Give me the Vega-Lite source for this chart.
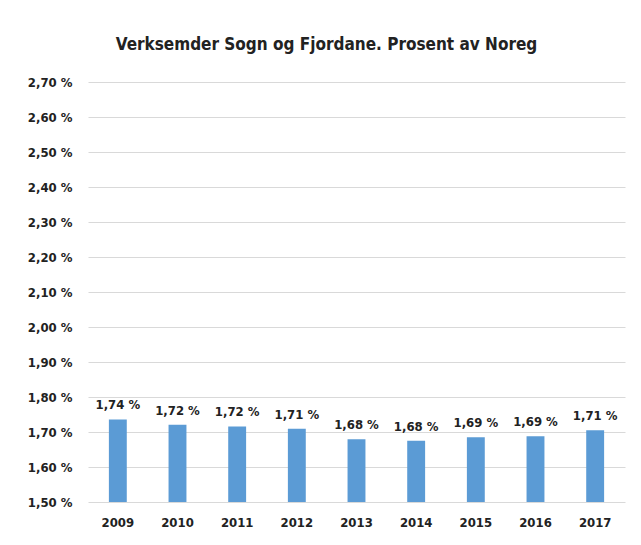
{
  "$schema": "https://vega.github.io/schema/vega-lite/v6.json",
  "autosize": "none",
  "width": 537,
  "height": 420,
  "padding": {"left": 88, "top": 82, "right": 16, "bottom": 43},
  "background": "white",
  "title": {
    "text": "Verksemder Sogn og Fjordane. Prosent av Noreg",
    "font": "DejaVu Sans Condensed, sans-serif",
    "fontSize": 17,
    "fontWeight": "bold",
    "color": "#222222",
    "anchor": "middle",
    "dx": -30,
    "offset": 22
  },
  "data": {
    "values": [
      {"year": "2009", "value": 1.736, "label": "1,74 %"},
      {"year": "2010", "value": 1.721, "label": "1,72 %"},
      {"year": "2011", "value": 1.716, "label": "1,72 %"},
      {"year": "2012", "value": 1.709, "label": "1,71 %"},
      {"year": "2013", "value": 1.679, "label": "1,68 %"},
      {"year": "2014", "value": 1.675, "label": "1,68 %"},
      {"year": "2015", "value": 1.685, "label": "1,69 %"},
      {"year": "2016", "value": 1.688, "label": "1,69 %"},
      {"year": "2017", "value": 1.705, "label": "1,71 %"}
    ]
  },
  "encoding": {
    "x": {
      "field": "year",
      "type": "ordinal",
      "scale": {"paddingInner": 0.7, "paddingOuter": 0.35},
      "axis": {
        "title": null,
        "labelAngle": 0,
        "domain": false,
        "ticks": false,
        "labelPadding": 14,
        "labelOverlap": false,
        "labelFont": "DejaVu Sans Condensed, sans-serif",
        "labelFontSize": 13,
        "labelFontWeight": "bold",
        "labelColor": "#222222"
      }
    },
    "y": {
      "field": "value",
      "type": "quantitative",
      "scale": {"domain": [1.5, 2.7], "nice": false, "zero": false},
      "axis": {
        "title": null,
        "values": [1.5, 1.6, 1.7, 1.8, 1.9, 2.0, 2.1, 2.2, 2.3, 2.4, 2.5, 2.6, 2.7],
        "tickCount": 13,
        "labelExpr": "replace(format(datum.value, '.2f'), '.', ',') + ' %'",
        "labelOverlap": false,
        "labelBound": false,
        "domain": false,
        "ticks": false,
        "grid": true,
        "gridColor": "#d9d9d9",
        "gridWidth": 1,
        "labelPadding": 16,
        "labelFont": "DejaVu Sans Condensed, sans-serif",
        "labelFontSize": 13,
        "labelFontWeight": "bold",
        "labelColor": "#222222"
      }
    }
  },
  "layer": [
    {
      "mark": {"type": "bar", "color": "#5B9BD5", "clip": true}
    },
    {
      "mark": {
        "type": "text",
        "baseline": "bottom",
        "dy": -7,
        "font": "DejaVu Sans Condensed, sans-serif",
        "fontSize": 13,
        "fontWeight": "bold",
        "color": "#222222"
      },
      "encoding": {
        "text": {"field": "label"}
      }
    }
  ],
  "config": {"view": {"stroke": null}}
}
